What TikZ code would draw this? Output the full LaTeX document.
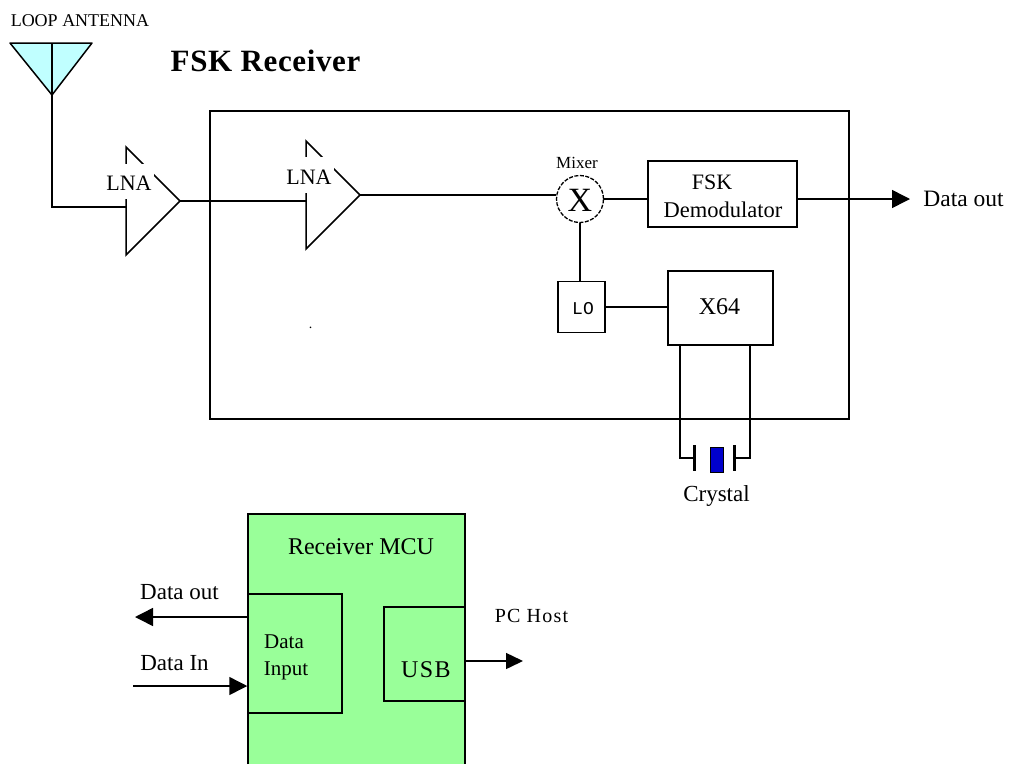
\documentclass[tikz,border=0pt]{standalone}
\usepackage{fontspec}
\setmainfont{Liberation Serif}
\newfontfamily\spacedfont[LetterSpace=6]{Liberation Serif}
\newfontfamily\titlefont[LetterSpace=2]{Liberation Serif}
\newfontfamily\lomono{Liberation Mono}
\usetikzlibrary{arrows.meta}
\definecolor{antcyan}{HTML}{C0FFFF}
\definecolor{mcugreen}{HTML}{99FF99}
\definecolor{xtalblue}{HTML}{0000CC}
\tikzset{
  wire/.style={line width=1.5pt,draw=black},
  flow/.style={wire,-{Triangle[length=18pt,width=18pt]}},
  flowsmall/.style={wire,-{Triangle[length=17pt,width=16pt]}},
  boxn/.style={draw=black,line width=1.5pt,inner sep=0pt,anchor=center},
  txt/.style={inner sep=0pt,anchor=center,text=black},
  mask/.style={fill=white,inner sep=0pt,anchor=center}
}
\newcommand{\fs}[1]{\fontsize{#1}{#1}\selectfont}
\begin{document}
\begin{tikzpicture}[x=1pt,y=-1pt]
\useasboundingbox (0,0) rectangle (1010,764);
\fill[white] (0,0) rectangle (1010,764);
% enclosure
\node[boxn,minimum width=639pt,minimum height=308pt] (rx) at (529.5,265) {};
% antenna
\coordinate (antL) at (10,43);
\coordinate (antR) at (92,43);
\coordinate (antB) at (52,95);
\coordinate (antT) at (52,43);
\filldraw[wire,fill=antcyan,line join=round] (antL) -- (antR) -- (antB) -- cycle;
\node[txt] (antlabel) at (80,21) {\fs{18}LOOP ANTENNA};
\node[txt] (title) at (265.5,61) {\fs{31}\titlefont\bfseries FSK Receiver};
% LNA 1
\coordinate (a1T) at (126,147);
\coordinate (a1B) at (126,255);
\coordinate (a1E) at (180,201);
\coordinate (a1I) at (126,207);
\draw[wire] (antT) -- (antB) -- (antB |- a1I) -- (a1I);
\draw[wire,line join=miter] (a1T) -- (a1E) -- (a1B) -- cycle;
\node[mask,minimum width=50pt,minimum height=35pt] (a1m) at (129,181) {};
\node[txt] (a1t) at (129,183) {\fs{22}LNA};
% LNA 2
\coordinate (a2T) at (306,141);
\coordinate (a2B) at (306,249);
\coordinate (a2E) at (360,195);
\coordinate (a2I) at (306,201);
\draw[wire] (a1E) -- (a2I);
\draw[wire,line join=miter] (a2T) -- (a2E) -- (a2B) -- cycle;
\node[mask,minimum width=50pt,minimum height=36pt] (a2m) at (309,175) {};
\node[txt] (a2t) at (309,177) {\fs{22}LNA};
\node[txt] (speck) at (310.5,328) {\fs{14}.};
% mixer
\node[draw=black,line width=1.3pt,dash pattern=on 4pt off 1.5pt,circle,minimum size=47pt,inner sep=0pt] (mix) at (580,199) {};
\node[txt] (mixx) at (580,200) {\fs{34}X};
\node[txt] (mixl) at (577,163) {\fs{17}Mixer};
\coordinate (mixin) at (556,195);
\draw[wire] (a2E) -- (mixin);
% demod
\node[boxn,minimum width=149pt,minimum height=66pt] (fsk) at (722.5,194) {};
\node[txt] (fsk1) at (712,182) {\fs{22}FSK};
\node[txt] (fsk2) at (723,210) {\fs{22.5}Demodulator};
\draw[wire] (mix.east) -- (mix.east -| fsk.west);
\coordinate (out) at (910,199);
\draw[flow] (out -| fsk.east) -- (out);
\node[txt] (outl) at (963.5,199) {\fs{23.5}Data out};
% LO and X64
\node[boxn,minimum width=47pt,minimum height=51pt] (lo) at (581.5,307) {};
\node[txt] (lot) at (583,309) {\fs{18}\lomono LO};
\node[boxn,minimum width=105pt,minimum height=74pt] (x64) at (720.5,308) {};
\node[txt] (x64t) at (719.5,307) {\fs{24}X64};
\draw[wire] (mix.south) -- (mix.south |- lo.north);
\draw[wire] (lo.east) -- (lo.east -| x64.west);
% crystal
\coordinate (xl) at (680,345);
\coordinate (xr) at (750,345);
\node[draw=black,line width=1.2pt,minimum width=1pt,minimum height=25pt,inner sep=0pt] (pl) at (694.5,458) {};
\node[draw=black,line width=1.2pt,minimum width=1pt,minimum height=25pt,inner sep=0pt] (pr) at (734.5,458) {};
\node[draw=black,fill=xtalblue,line width=1pt,minimum width=13pt,minimum height=25pt,inner sep=0pt] (xt) at (716.5,459.5) {};
\draw[wire] (xl) -- (xl |- pl.west) -- (pl.west);
\draw[wire] (xr) -- (xr |- pr.east) -- (pr.east);
\node[txt] (xtl) at (716.5,496) {\fs{23}Crystal};
% MCU
\node[fill=mcugreen,inner sep=0pt,minimum width=217pt,minimum height=250pt] (mcu) at (356.5,639) {};
\draw[wire] (mcu.south west) -- (mcu.north west) -- (mcu.north east) -- (mcu.south east);
\node[txt] (mcut) at (361,547) {\fs{24}Receiver MCU};
\node[boxn,minimum width=94pt,minimum height=119pt] (di) at (295,653.5) {};
\node[txt] (dit1) at (284,642) {\fs{21}Data};
\node[txt] (dit2) at (286,671) {\fs{21}Input};
\node[boxn,minimum width=81pt,minimum height=94pt] (usb) at (424.5,654) {};
\node[txt] (usbt) at (426,670) {\fs{24}\spacedfont USB};
\coordinate (dout) at (135,617);
\coordinate (din) at (133,686);
\coordinate (pch) at (523,661);
\draw[flow] (dout -| di.west) -- (dout);
\draw[flow] (din) -- (din -| di.west);
\draw[flowsmall] (pch -| usb.east) -- (pch);
\node[txt] (doutl) at (179.5,592) {\fs{23}Data out};
\node[txt] (dinl) at (174.5,663) {\fs{23}Data In};
\node[txt] (pcl) at (531.5,616) {\fs{20}\spacedfont PC Host};
\end{tikzpicture}
\end{document}
